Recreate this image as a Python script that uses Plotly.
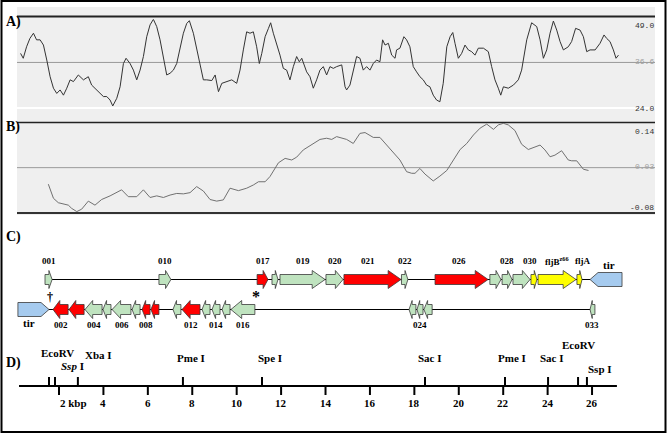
import plotly.graph_objects as go

W, H = 669, 434

# ---- panel A: GC content (%) along the molecule (kbp) ----
gc_pos = [0.27, 0.39, 0.54, 0.69, 0.85, 0.99, 1.15, 1.30, 1.45, 1.60, 1.75, 1.90, 2.05, 2.20,
          2.35, 2.50, 2.65, 2.87, 3.10, 3.32, 3.47, 3.70, 3.85, 4.00, 4.15, 4.30, 4.42, 4.60,
          4.75, 4.90, 5.02, 5.20, 5.35, 5.50, 5.65, 5.80, 5.95, 6.10, 6.25, 6.40, 6.55, 6.70,
          6.85, 7.00, 7.15, 7.30, 7.45, 7.60, 7.75, 7.87, 8.05, 8.20, 8.35, 8.50, 8.65, 8.88,
          9.03, 9.18, 9.33, 9.55, 9.78, 10.00, 10.15, 10.30, 10.45, 10.60, 10.75, 10.90, 11.02,
          11.13, 11.28, 11.43, 11.53, 11.65, 11.80, 11.95, 12.10, 12.25, 12.40, 12.55, 12.70,
          12.82, 12.93, 13.03, 13.15, 13.30, 13.45, 13.60, 13.75, 13.90, 14.05, 14.20, 14.35,
          14.50, 14.73, 14.88, 14.95, 15.10, 15.25, 15.40, 15.55, 15.70, 15.85, 16.00, 16.15,
          16.30, 16.45, 16.57, 16.68, 16.83, 16.98, 17.13, 17.20, 17.35, 17.53, 17.65, 17.80,
          17.95, 18.10, 18.25, 18.40, 18.55, 18.70, 18.85, 19.00, 19.15, 19.30, 19.46, 19.61,
          19.73, 19.83, 19.98, 20.13, 20.28, 20.43, 20.58, 20.73, 20.88, 21.11, 21.33, 21.48,
          21.63, 21.78, 21.89, 22.01, 22.23, 22.46, 22.68, 22.83, 23.06, 23.28, 23.51, 23.66,
          23.81, 23.96, 24.11, 24.26, 24.41, 24.56, 24.71, 24.93, 25.08, 25.26, 25.46, 25.61,
          25.76, 25.91, 26.14, 26.36, 26.54, 26.66, 26.81, 26.96, 27.08, 27.19]
gc_val = [39.2, 37.8, 41.1, 43.5, 45.0, 43.1, 43.1, 41.6, 37.3, 32.5, 29.2, 27.7, 28.7, 27.2,
          29.2, 31.6, 31.1, 33.0, 31.6, 32.5, 30.1, 28.7, 27.7, 26.8, 26.8, 25.8, 24.1, 26.3,
          29.6, 36.3, 37.8, 36.3, 34.4, 31.6, 34.4, 38.3, 44.0, 47.4, 49.0, 46.9, 43.1, 38.3,
          33.0, 33.5, 34.4, 36.3, 40.2, 45.0, 47.8, 48.6, 45.0, 40.2, 35.4, 31.6, 31.6, 31.4,
          33.0, 28.2, 30.6, 31.1, 31.6, 30.6, 34.4, 40.2, 45.4, 45.0, 45.4, 41.1, 36.3,
          39.2, 44.0, 46.4, 48.0, 45.0, 42.1, 38.7, 34.9, 34.4, 31.6, 35.4, 38.3,
          36.8, 37.8, 35.9, 33.9, 32.5, 29.2, 31.6, 34.4, 35.4, 33.0, 35.4, 34.9,
          35.4, 35.9, 29.6, 28.7, 30.1, 33.9, 38.3, 37.8, 34.4, 35.4, 34.4, 36.3,
          37.3, 36.8, 43.1, 41.6, 42.1, 38.7, 37.8, 40.2, 40.7, 44.0, 43.1, 41.1,
          35.4, 33.9, 32.5, 31.6, 30.1, 29.6, 27.2, 25.8, 25.3, 30.6, 41.1, 44.0,
          45.2, 42.1, 37.8, 39.2, 41.6, 40.2, 39.7, 38.7, 40.7, 40.7, 39.7, 35.4,
          31.6, 29.2, 27.2, 29.6, 29.2, 30.1, 31.6, 34.4, 43.1, 48.0, 46.9, 43.1,
          37.8, 40.2, 45.0, 48.5, 45.9, 42.6, 40.2, 41.1, 42.6, 46.4, 45.9, 44.0,
          39.7, 40.2, 40.2, 42.1, 44.5, 43.5, 42.6, 40.2, 37.8, 38.7]
gc_ticks = [49.0, 36.6, 24.0]

# ---- panel B: GC skew ----
skew_pos = [1.52, 1.75, 1.97, 2.20, 2.42, 2.57, 2.80, 3.02, 3.32, 3.62, 3.92, 4.30, 4.82, 5.12,
            5.50, 5.80, 6.10, 6.40, 6.70, 7.00, 7.30, 7.60, 7.90, 8.20, 8.50, 8.80, 9.10, 9.40,
            9.70, 10.08, 10.45, 10.75, 10.98, 11.28, 11.50, 11.88, 12.18, 12.48, 12.70, 13.00,
            13.30, 13.75, 14.05, 14.28, 14.50, 14.95, 15.25, 15.55, 15.78, 16.15, 16.45, 16.75,
            17.05, 17.35, 17.65, 17.88, 18.03, 18.25, 18.48, 18.85, 19.15, 19.46, 19.76, 20.06,
            20.36, 20.66, 20.96, 21.26, 21.56, 21.78, 22.01, 22.23, 22.53, 22.83, 23.13, 23.36,
            23.66, 23.88, 24.11, 24.33, 24.63, 24.93, 25.08, 25.31, 25.61, 25.84]
skew_val = [-0.011, -0.046, -0.057, -0.061, -0.063, -0.071, -0.079, -0.073, -0.053, -0.063,
            -0.049, -0.040, -0.025, -0.042, -0.042, -0.025, -0.044, -0.040, -0.044, -0.038,
            -0.034, -0.035, -0.032, -0.017, -0.028, -0.049, -0.053, -0.050, -0.021, -0.027,
            -0.021, -0.013, -0.005, -0.005, 0.008, 0.042, 0.053, 0.049, 0.056, 0.074,
            0.084, 0.100, 0.103, 0.100, 0.107, 0.100, 0.090, 0.115, 0.117, 0.105, 0.105, 0.086,
            0.066, 0.049, 0.020, 0.016, 0.016, 0.028, 0.014, -0.003, 0.009, 0.023, 0.049, 0.075,
            0.090, 0.111, 0.128, 0.138, 0.125, 0.136, 0.140, 0.136, 0.122, 0.088, 0.075, 0.080,
            0.086, 0.074, 0.057, 0.061, 0.072, 0.049, 0.047, 0.047, 0.026, 0.023]
skew_ticks = [0.14, 0.03, -0.08]

# ---- panel C: gene map (kbp) ----
fwd_names = ["001", "010", "017", "", "019", "020", "021", "022", "026", "", "028", "",
             "030", "fljB<sup>z66</sup>", "fljA"]
fwd_start = [1.37, 6.50, 10.92, 11.59, 11.95, 14.02, 14.83, 17.42, 18.93, 21.40, 21.95, 22.44,
             23.25, 23.57, 25.32]
fwd_end = [1.69, 7.04, 11.41, 11.86, 13.98, 14.79, 17.40, 17.71, 21.32, 21.90, 22.40, 23.21,
           23.52, 25.28, 25.55]
fwd_kind = ["g", "g", "r", "g", "g", "g", "r", "g", "r", "g", "g", "g", "y", "y", "y"]

rev_names = ["002", "", "004", "", "006", "", "008", "", "", "012", "", "014", "", "016",
             "", "024", "", "033"]
rev_start = [1.73, 2.45, 3.17, 3.98, 4.39, 5.29, 5.74, 6.14, 7.13, 7.54, 8.44, 8.89, 9.34,
             9.74, 17.76, 18.12, 18.43, 25.91]
rev_end = [2.41, 3.13, 3.94, 4.34, 5.24, 5.65, 6.10, 6.50, 7.49, 8.35, 8.80, 9.25, 9.70,
           10.82, 18.07, 18.39, 18.80, 26.13]
rev_kind = ["r", "r", "g", "g", "g", "g", "r", "r", "g", "r", "g", "g", "g", "g",
            "g", "g", "g", "g"]

tir_left = (0.15, 1.55)
tir_right = (25.91, 27.35)
fwd_span = (1.37, 25.91)
rev_span = (1.55, 26.13)
dagger_pos = 1.6
star_pos = 10.85

# ---- panel D: restriction map (kbp) ----
site_names = ["EcoRV", "<i>Ssp</i> I", "Xba I", "Pme I", "Spe I", "Sac I", "Pme I", "Sac I",
              "EcoRV", "Ssp I"]
site_pos = [1.55, 1.82, 2.85, 7.58, 11.14, 18.48, 22.08, 24.02, 25.37, 25.77]
scale_ticks = [2, 4, 6, 8, 10, 12, 14, 16, 18, 20, 22, 24, 26]
scale_labels = ["2 kbp", "4", "6", "8", "10", "12", "14", "16", "18", "20", "22", "24", "26"]
scale_span = (0.2, 27.12)

# ---- styling ----
KIND_COLOUR = {"g": "#bfe3bf", "r": "#ff0000", "y": "#ffff00"}
TIR_COLOUR = "#a6cbef"
SERIF = "Liberation Serif"
MONO = "Liberation Mono"
KB0, KBS = 14.58, 22.21          # pixel position of 0 kbp and pixels per kbp
TOP_Y, BOT_Y = 279.5, 309.5      # gene rows (pixels from top)
AXIS_Y = 386
# label nudges (px): horizontal offset from the site tick and label centre height
site_label_dx = [8, 17, 21, 8, 8, 5, 7, 4, 0, 13]
site_label_y = [353, 366, 355, 358, 358, 358, 358, 358, 345, 369]
fwd_label_dx = {"021": -4, "026": -3, "030": -4, "fljA": 3}
XRANGE = [-KB0 / KBS, (W - KB0) / KBS]


def px(x):
    return x / W


def py(y):
    return 1 - y / H


def arrow(start, end, strand, yc):
    head = min(0.58, 0.45 * (end - start))
    if strand > 0:
        neck = end - head
        xs = [start, neck, neck, end, neck, neck, start, start]
    else:
        neck = start + head
        xs = [end, neck, neck, start, neck, neck, end, end]
    ys = [yc - 5, yc - 5, yc - 9, yc, yc + 9, yc + 5, yc + 5, yc - 5]
    return xs, ys


def tir_shape(start, end, strand, yc):
    tip = 0.36
    if strand > 0:
        xs = [start, end - tip, end, end - tip, start, start]
    else:
        xs = [end, start + tip, start, start + tip, end, end]
    ys = [yc - 7, yc - 7, yc, yc + 7, yc + 7, yc - 7]
    return xs, ys


fig = go.Figure()

# panel A / B curves
fig.add_trace(go.Scatter(x=gc_pos, y=gc_val, mode="lines", yaxis="y",
                         line=dict(color="#333333", width=1)))
fig.add_trace(go.Scatter(x=skew_pos, y=skew_val, mode="lines", yaxis="y2",
                         line=dict(color="#707070", width=1)))

# strand lines
for span, yc in [(fwd_span, TOP_Y), (rev_span, BOT_Y)]:
    fig.add_trace(go.Scatter(x=list(span), y=[yc, yc], mode="lines", yaxis="y3",
                             line=dict(color="black", width=1.2)))

# genes
for starts, ends, kinds, strand, yc in [(fwd_start, fwd_end, fwd_kind, 1, TOP_Y),
                                        (rev_start, rev_end, rev_kind, -1, BOT_Y)]:
    for s, e, k in zip(starts, ends, kinds):
        xs, ys = arrow(s, e, strand, yc)
        fig.add_trace(go.Scatter(x=xs, y=ys, mode="lines", fill="toself", yaxis="y3",
                                 fillcolor=KIND_COLOUR[k],
                                 line=dict(color="#3a3a3a", width=0.8)))
for (s, e), strand, yc in [(tir_left, 1, BOT_Y), (tir_right, -1, TOP_Y)]:
    xs, ys = tir_shape(s, e, strand, yc)
    fig.add_trace(go.Scatter(x=xs, y=ys, mode="lines", fill="toself", yaxis="y3",
                             fillcolor=TIR_COLOUR, line=dict(color="#3a3a3a", width=0.8)))

# restriction map axis and ticks
tick_x, tick_y = [], []
for t in scale_ticks:
    tick_x += [t, t, None]
    tick_y += [AXIS_Y, AXIS_Y + 9, None]
for s in site_pos:
    tick_x += [s, s, None]
    tick_y += [AXIS_Y - 9, AXIS_Y, None]
fig.add_trace(go.Scatter(x=tick_x, y=tick_y, mode="lines", yaxis="y3",
                         line=dict(color="black", width=2)))
fig.add_trace(go.Scatter(x=list(scale_span), y=[AXIS_Y, AXIS_Y], mode="lines", yaxis="y3",
                         line=dict(color="black", width=2)))

annotations = []


def note(text, x, y, size, xref="x", yref="y3", xanchor="center", yanchor="middle",
         family=SERIF, color="black"):
    annotations.append(dict(text=text, x=x, y=y, xref=xref, yref=yref, xanchor=xanchor,
                            yanchor=yanchor, showarrow=False,
                            font=dict(family=family, size=size, color=color)))


# gene labels
for name, s, e in zip(fwd_names, fwd_start, fwd_end):
    if name:
        x = (s + e) / 2 + fwd_label_dx.get(name, 0) / KBS
        note("<b>%s</b>" % name, x, 261, 9)
for name, s, e in zip(rev_names, rev_start, rev_end):
    if name:
        note("<b>%s</b>" % name, (s + e) / 2, 325, 9)

note("<b>tir</b>", sum(tir_right) / 2 + 0.15, 265, 11)
note("<b>tir</b>", tir_left[0] + 0.5, 323, 11)
note("<b>†</b>", dagger_pos, 297, 12)
note("<b>*</b>", star_pos, 296, 16)

# restriction sites
for name, pos, dx, y in zip(site_names, site_pos, site_label_dx, site_label_y):
    note("<b>%s</b>" % name, pos + dx / KBS, y, 11)
for t, lab in zip(scale_ticks, scale_labels):
    if lab.endswith("kbp"):
        note("<b>%s</b>" % lab, t - 0.05, 403, 11, xanchor="left")
    else:
        note("<b>%s</b>" % lab, t, 403, 11)

# panel letters
for lab, y in [("A)", 22), ("B)", 127), ("C)", 237), ("D)", 363)]:
    note("<b>%s</b>" % lab, px(4), py(y), 14, xref="paper", yref="paper", xanchor="left")

# right-hand scale values
for val, y in zip(gc_ticks, [25, 61.5, 108]):
    note("%.1f" % val, px(656), py(y), 8, xref="paper", yref="paper", xanchor="right",
         family=MONO, color="#a0a0a0" if val == gc_ticks[1] else "#333333")
for val, y in zip(skew_ticks, [131, 167, 208]):
    note("%.2f" % val, px(656), py(y), 8, xref="paper", yref="paper", xanchor="right",
         family=MONO, color="#a0a0a0" if val == skew_ticks[1] else "#333333")

shapes = [
    # panel backgrounds
    dict(type="rect", xref="paper", yref="paper", x0=px(17), x1=px(655), y0=py(107), y1=py(7),
         fillcolor="#efefef", line=dict(width=0), layer="below"),
    dict(type="rect", xref="paper", yref="paper", x0=px(17), x1=px(655), y0=py(215),
         y1=py(109), fillcolor="#efefef", line=dict(width=0), layer="below"),
    # heavy frame lines
    dict(type="line", xref="paper", yref="paper", x0=px(17), x1=px(655), y0=py(16.5),
         y1=py(16.5), line=dict(color="#222222", width=2)),
    dict(type="line", xref="paper", yref="paper", x0=px(17), x1=px(655), y0=py(122.5),
         y1=py(122.5), line=dict(color="#222222", width=1.5)),
    dict(type="line", xref="paper", yref="paper", x0=px(17), x1=px(655), y0=py(213),
         y1=py(213), line=dict(color="#333333", width=2)),
    # mean lines
    dict(type="line", xref="paper", yref="y", x0=px(17), x1=px(655), y0=gc_ticks[1],
         y1=gc_ticks[1], line=dict(color="#9a9a9a", width=1), layer="below"),
    dict(type="line", xref="paper", yref="y2", x0=px(17), x1=px(655), y0=skew_ticks[1],
         y1=skew_ticks[1], line=dict(color="#9a9a9a", width=1), layer="below"),
    # outer border
    dict(type="rect", xref="paper", yref="paper", x0=px(1.5), x1=px(665.5), y0=py(432),
         y1=py(1), line=dict(color="black", width=2)),
]

fig.update_layout(
    width=W, height=H, margin=dict(l=0, r=0, t=0, b=0),
    paper_bgcolor="white", plot_bgcolor="rgba(0,0,0,0)", showlegend=False,
    xaxis=dict(range=XRANGE, domain=[0, 1], visible=False),
    yaxis=dict(range=[24, 49], domain=[py(106.3), py(19.3)], visible=False),
    yaxis2=dict(range=[-0.08, 0.14], domain=[py(212), py(123.3)], anchor="x",
                visible=False),
    yaxis3=dict(range=[H, 0], domain=[0, 1], anchor="x", visible=False),
    shapes=shapes, annotations=annotations,
)

fig.write_html("out.html", config={"displayModeBar": False},
               post_script="document.body.style.margin='0';")
